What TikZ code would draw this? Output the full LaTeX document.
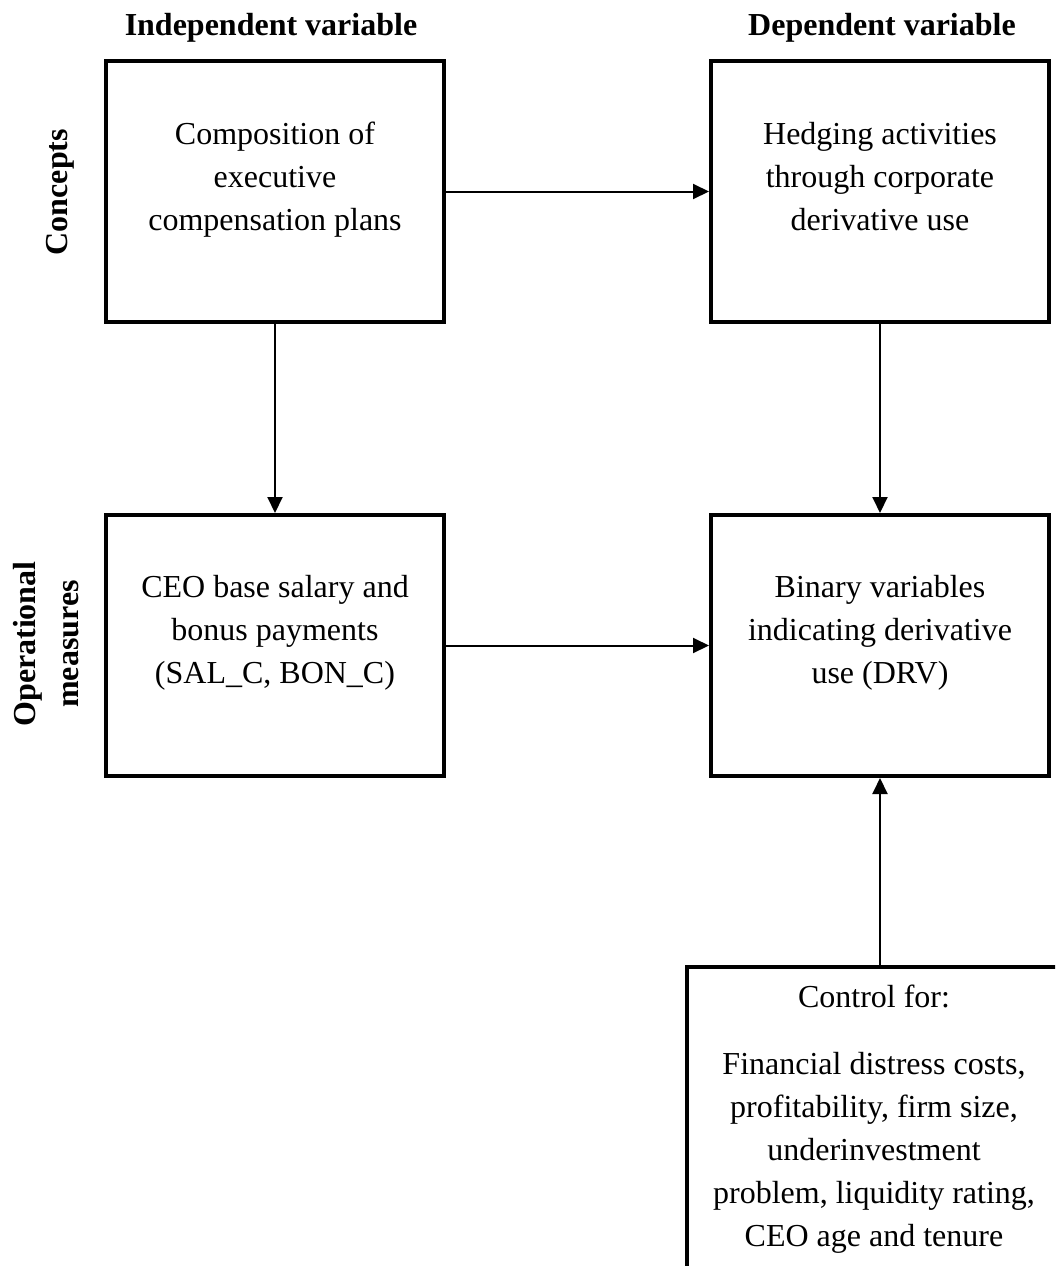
\documentclass[tikz,border=0pt]{standalone}
\usepackage{fontspec}
\setmainfont{Liberation Serif}
\usetikzlibrary{arrows.meta}
\tikzset{
  box/.style={draw, line width=4pt, minimum width=338pt, minimum height=261pt, inner sep=0pt},
  txt/.style={align=center, font=\fontsize{32}{43}\selectfont, inner sep=0pt},
  head/.style={font=\fontsize{32}{43}\selectfont\bfseries, inner sep=0pt},
  arr/.style={line width=2pt, -{Triangle[length=16pt,width=15pt]}}
}
\begin{document}
\begin{tikzpicture}[x=1pt,y=-1pt]
\useasboundingbox (0,0) rectangle (1055,1266);
\begin{scope}
\clip (0,0) rectangle (1055,1266);
% boxes
\node[box] (A) at (275,191.5) {};
\node[box] (B) at (880,191.5) {};
\node[box] (C) at (275,645.5) {};
\node[box] (D) at (880,645.5) {};
\node[box, minimum width=400pt, minimum height=400pt] (E) at (887,1167) {};
% headers
\node[head, anchor=base] (h1) at (271,35) {Independent variable};
\node[head, anchor=base] (h2) at (882,35) {Dependent variable};
\node[head, rotate=90] (r1) at (60,192) {Concepts};
\node[head, rotate=90, align=center] (r2) at (46,644) {Operational\\measures};
% texts
\node[txt] (tA) at (275,180) {Composition of\\executive\\compensation plans};
\node[txt] (tB) at (880,177) {Hedging activities\\through corporate\\derivative use};
\node[txt] (tC) at (275,633) {CEO base salary and\\bonus payments\\(SAL\_C, BON\_C)};
\node[txt] (tD) at (880,633) {Binary variables\\indicating derivative\\use (DRV)};
\node[txt, anchor=base] (tE1) at (874,1007) {Control for:};
\node[txt, anchor=north] (tE2) at (874,1052) {Financial distress costs,\\profitability, firm size,\\underinvestment\\problem, liquidity rating,\\CEO age and tenure};
% arrows
\draw[arr] (A.east) -- (B.west);
\draw[arr] (C.east) -- (D.west);
\draw[arr] (A.south) -- (C.north);
\draw[arr] (B.south) -- (D.north);
\draw[arr] (E.north -| D.south) -- (D.south);
\end{scope}
\end{tikzpicture}
\end{document}
